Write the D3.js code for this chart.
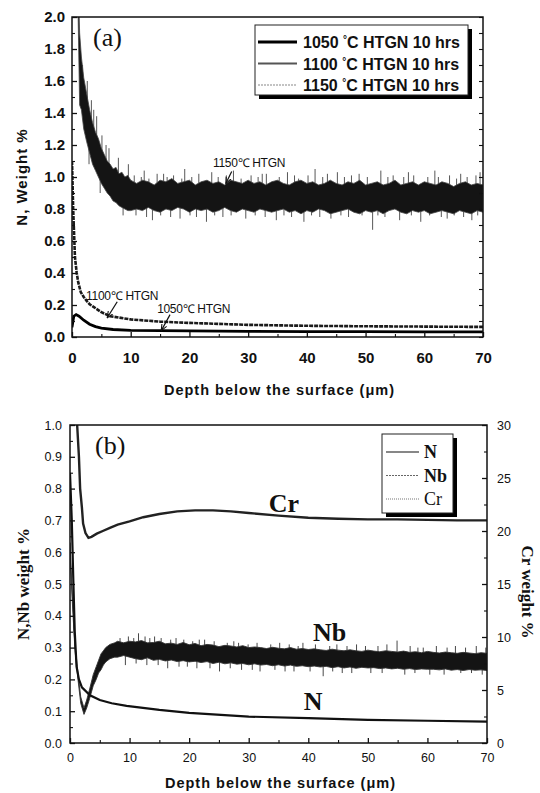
<!DOCTYPE html>
<html>
<head>
<meta charset="utf-8">
<script src="https://cdn.jsdelivr.net/npm/d3@7"></script>
<style>
body { margin: 0; background: #fff; }
svg { display: block; }
</style>
</head>
<body>
<svg id="chart" width="540" height="793"></svg>
<script>
// ---- panel (a) data : N weight % vs depth (um) ----
var depth1050 = [0, 0.3, 0.7, 1.2, 2, 3, 4, 5, 7, 10, 15, 20, 30, 40, 50, 60, 70];
var n1050 = [0.06, 0.13, 0.14, 0.13, 0.105, 0.08, 0.065, 0.055, 0.047, 0.042, 0.04, 0.038, 0.035, 0.034, 0.033, 0.032, 0.032];

var depth1100 = [0, 0.2, 0.5, 0.8, 1.07, 1.5, 2, 2.5, 3, 3.6, 5, 6.5, 10, 15, 20, 30, 40, 50, 60, 70];
var n1100 = [1.1, 0.8, 0.5, 0.4, 0.34, 0.28, 0.25, 0.225, 0.205, 0.19, 0.155, 0.13, 0.11, 0.096, 0.088, 0.076, 0.07, 0.067, 0.065, 0.063];

// 1150 is a noisy trace: upper / lower edge of the band
var depth1150 = [0.9, 1.0, 1.3, 1.6, 2, 2.5, 3, 3.5, 4, 4.5, 5, 5.5, 6, 6.5, 7, 7.5, 8, 8.5, 9, 9.5, 10,
    11, 12, 13, 14, 15, 16, 17, 18, 19, 20, 21, 22, 23, 24, 25, 26, 27, 28, 29, 30,
    31, 32, 33, 34, 35, 36, 37, 38, 39, 40, 41, 42, 43, 44, 45, 46, 47, 48, 49, 50,
    51, 52, 53, 54, 55, 56, 57, 58, 59, 60, 61, 62, 63, 64, 65, 66, 67, 68, 69, 70];
var hi1150 = [2.3, 2.3, 1.9, 1.75, 1.62, 1.52, 1.42, 1.34, 1.28, 1.24, 1.18, 1.14, 1.1, 1.08, 1.05, 1.06, 1.02, 1.03, 1.0, 1.01, 0.98,
    0.96, 0.98, 0.97, 0.95, 0.98, 0.97, 0.99, 0.96, 0.97, 0.98, 0.95, 0.97, 0.98, 0.96, 0.97, 0.95, 0.98, 0.97, 0.96, 0.98,
    0.96, 0.97, 0.95, 0.97, 0.98, 0.96, 0.95, 0.97, 0.98, 0.96, 0.97, 0.95, 0.96, 0.98, 0.96, 0.95, 0.97, 0.96, 0.98, 0.95,
    0.96, 0.97, 0.95, 0.96, 0.98, 0.95, 0.96, 0.97, 0.95, 0.97, 0.96, 0.95, 0.97, 0.96, 0.94, 0.96, 0.97, 0.95, 0.96, 0.95];
var lo1150 = [2.3, 2.1, 1.45, 1.42, 1.3, 1.22, 1.15, 1.08, 1.04, 1.0, 0.96, 0.93, 0.9, 0.88, 0.85, 0.84, 0.82, 0.81, 0.8, 0.79, 0.79,
    0.80, 0.79, 0.81, 0.79, 0.78, 0.80, 0.79, 0.81, 0.80, 0.78, 0.80, 0.79, 0.80, 0.78, 0.79, 0.81, 0.79, 0.78, 0.80, 0.79,
    0.78, 0.80, 0.79, 0.78, 0.79, 0.80, 0.78, 0.79, 0.77, 0.79, 0.78, 0.80, 0.79, 0.77, 0.78, 0.79, 0.80, 0.78, 0.77, 0.79,
    0.78, 0.79, 0.77, 0.79, 0.80, 0.78, 0.77, 0.79, 0.78, 0.79, 0.77, 0.78, 0.79, 0.78, 0.77, 0.79, 0.78, 0.77, 0.79, 0.78];
// [depth, from, to] single spikes sticking out of the band
var spikes1150 = [[1.8, 1.5, 1.7], [2.6, 1.35, 1.6], [3.3, 1.25, 1.48], [4.2, 1.15, 1.38], [5.1, 1.05, 1.26], [6.3, 1.0, 1.18],
    [7.9, 0.92, 1.12], [9.6, 0.9, 1.08], [2.9, 1.3, 1.08], [4.8, 1.1, 0.9], [8.7, 0.9, 0.76], [3.7, 1.2, 1.42], [5.8, 1.0, 1.2],
    [10.6, 0.9, 1.01], [11.8, 0.9, 1.0], [12.3, 0.9, 1.04], [13.1, 0.9, 0.99], [14.5, 0.9, 1.02], [15.6, 0.9, 1.02], [16.2, 0.9, 1.0],
    [17.3, 0.9, 1.01], [18.7, 0.9, 0.99], [19.2, 0.9, 1.05], [20.4, 0.9, 1.0], [21.6, 0.9, 1.02], [23.8, 0.9, 1.03], [24.9, 0.9, 1.0],
    [26.3, 0.9, 1.01], [27.5, 0.9, 1.04], [28.8, 0.9, 0.99], [30.5, 0.9, 1.01], [31.7, 0.9, 1.0], [32.4, 0.9, 1.02], [33.1, 0.9, 1.02],
    [35.3, 0.9, 1.0], [36.7, 0.9, 1.03], [37.9, 0.9, 1.01], [38.6, 0.9, 0.99], [40.2, 0.9, 1.01], [41.4, 0.9, 1.05], [42.7, 0.9, 1.0],
    [43.5, 0.9, 1.02], [45.2, 0.9, 1.03], [46.4, 0.9, 1.0], [47.6, 0.9, 1.01], [48.9, 0.9, 1.02], [50.3, 0.9, 1.0], [52.6, 0.9, 1.04],
    [53.8, 0.9, 1.0], [54.7, 0.9, 1.01], [56.5, 0.9, 1.0], [57.3, 0.9, 1.03], [58.2, 0.9, 1.01], [60.6, 0.9, 1.0], [61.8, 0.9, 1.04],
    [62.4, 0.9, 1.0], [64.3, 0.9, 1.01], [65.5, 0.9, 0.99], [66.2, 0.9, 1.02], [67.3, 0.9, 1.0], [68.8, 0.9, 1.01], [69.5, 0.9, 1.03],
    [10.9, 0.86, 0.76], [12.7, 0.86, 0.75], [13.7, 0.86, 0.73], [15.1, 0.86, 0.76], [16.8, 0.86, 0.75], [18.4, 0.86, 0.74],
    [20.1, 0.86, 0.76], [21.2, 0.86, 0.75], [22.9, 0.86, 0.72], [24.3, 0.86, 0.76], [25.7, 0.86, 0.75], [27.1, 0.86, 0.76],
    [29.6, 0.86, 0.74], [31.2, 0.86, 0.76], [32.9, 0.86, 0.75], [34.8, 0.86, 0.73], [36.1, 0.86, 0.76], [37.4, 0.86, 0.75],
    [39.5, 0.86, 0.72], [40.8, 0.86, 0.76], [42.2, 0.86, 0.75], [44.1, 0.86, 0.74], [45.8, 0.86, 0.76], [47.1, 0.86, 0.75],
    [49.4, 0.86, 0.76], [51.2, 0.86, 0.67], [52.1, 0.86, 0.76], [53.3, 0.86, 0.75], [55.8, 0.86, 0.73], [57.8, 0.86, 0.76],
    [59.4, 0.86, 0.72], [60.9, 0.86, 0.76], [62.9, 0.86, 0.75], [63.9, 0.86, 0.74], [65.1, 0.86, 0.76], [66.7, 0.86, 0.75],
    [68.1, 0.86, 0.73], [69.1, 0.86, 0.76]];

var legendA = ["1050", "1100", "1150"];

// ---- panel (b) data ----
var depthN = [0, 0.3, 0.56, 0.8, 1.1, 1.5, 2, 3.35, 5, 7, 9.5, 15, 20, 30, 40, 50, 60, 70];
var nB = [0.85, 0.7, 0.51, 0.35, 0.24, 0.2, 0.175, 0.15, 0.135, 0.125, 0.117, 0.104, 0.095, 0.083, 0.078, 0.073, 0.07, 0.067];

var depthNb = [0, 0.4, 0.84, 1.4, 1.8, 2.35, 2.8, 3.3, 3.9, 4.4, 4.8, 5.2, 5.6, 6, 6.7, 7.5, 8, 9, 10,
    11, 12, 13, 14, 15, 16, 17, 18, 19, 20, 21, 22, 23, 24, 25, 26, 27, 28, 29, 30,
    31, 32, 33, 34, 35, 36, 37, 38, 39, 40, 41, 42, 43, 44, 45, 46, 47, 48, 49, 50,
    51, 52, 53, 54, 55, 56, 57, 58, 59, 60, 61, 62, 63, 64, 65, 66, 67, 68, 69, 70];
var hiNb = [0.63, 0.46, 0.31, 0.21, 0.145, 0.11, 0.135, 0.17, 0.215, 0.24, 0.26, 0.28, 0.29, 0.3, 0.31, 0.315, 0.32, 0.315, 0.32,
    0.318, 0.322, 0.315, 0.316, 0.32, 0.312, 0.314, 0.31, 0.316, 0.309,
    0.313, 0.306, 0.31, 0.308, 0.303, 0.307, 0.305, 0.302, 0.306, 0.3,
    0.302, 0.3, 0.297, 0.301, 0.298, 0.296, 0.3, 0.295, 0.297, 0.294,
    0.296, 0.293, 0.291, 0.295, 0.292, 0.29, 0.293, 0.29, 0.288, 0.292,
    0.289, 0.287, 0.29, 0.288, 0.286, 0.289, 0.285, 0.287, 0.284, 0.288,
    0.285, 0.283, 0.286, 0.284, 0.282, 0.285, 0.283, 0.281, 0.284, 0.282];
var loNb = [0.6, 0.44, 0.29, 0.19, 0.125, 0.09, 0.11, 0.14, 0.18, 0.2, 0.22, 0.23, 0.245, 0.255, 0.265, 0.27, 0.27, 0.275, 0.27,
    0.265, 0.262, 0.268, 0.26, 0.263, 0.258, 0.261, 0.256, 0.259, 0.255,
    0.257, 0.253, 0.256, 0.25, 0.254, 0.249, 0.252, 0.248, 0.25, 0.246,
    0.249, 0.245, 0.247, 0.243, 0.246, 0.242, 0.245, 0.241, 0.243, 0.24,
    0.242, 0.239, 0.241, 0.237, 0.24, 0.236, 0.239, 0.235, 0.238, 0.236,
    0.237, 0.234, 0.236, 0.233, 0.235, 0.232, 0.234, 0.231, 0.233, 0.232,
    0.232, 0.23, 0.233, 0.229, 0.231, 0.228, 0.231, 0.229, 0.23, 0.228];
var spikesNb = [[8.4, 0.29, 0.33], [9.8, 0.29, 0.335], [10.7, 0.29, 0.33], [11.5, 0.29, 0.345], [12.6, 0.29, 0.335], [13.4, 0.29, 0.33],
    [14.2, 0.29, 0.335], [15.3, 0.285, 0.33], [16.9, 0.285, 0.325], [17.8, 0.285, 0.33], [19.1, 0.285, 0.325], [20.6, 0.28, 0.32],
    [21.7, 0.28, 0.325], [22.6, 0.28, 0.325], [24.2, 0.28, 0.32], [26.4, 0.275, 0.315], [27.5, 0.275, 0.32], [28.3, 0.275, 0.315],
    [29.9, 0.275, 0.31], [31.4, 0.27, 0.315], [33.7, 0.27, 0.31], [35.2, 0.27, 0.315], [36.8, 0.27, 0.31], [38.3, 0.265, 0.305],
    [39.1, 0.265, 0.315], [41.2, 0.265, 0.31], [43.6, 0.265, 0.305], [44.8, 0.265, 0.31], [46.5, 0.26, 0.305], [48.1, 0.26, 0.31],
    [49.6, 0.26, 0.305], [51.7, 0.26, 0.305], [53.2, 0.26, 0.31], [54.9, 0.26, 0.322], [57.1, 0.255, 0.305], [58.4, 0.255, 0.3],
    [59.3, 0.255, 0.3], [61.5, 0.255, 0.305], [63.3, 0.255, 0.3], [64.7, 0.255, 0.305], [66.4, 0.255, 0.3], [68.2, 0.255, 0.305],
    [69.8, 0.255, 0.3],
    [9.3, 0.29, 0.245], [11.1, 0.29, 0.25], [12.9, 0.29, 0.245], [14.8, 0.285, 0.245], [16.4, 0.285, 0.235], [18.3, 0.285, 0.24],
    [19.7, 0.28, 0.24], [21.3, 0.28, 0.235], [23.5, 0.28, 0.235], [25.1, 0.28, 0.225], [26.9, 0.275, 0.235], [28.8, 0.275, 0.23],
    [30.6, 0.27, 0.23], [31.9, 0.27, 0.225], [34.4, 0.27, 0.23], [36.1, 0.27, 0.225], [37.6, 0.265, 0.225], [40.3, 0.265, 0.225],
    [42.5, 0.265, 0.21], [44.1, 0.265, 0.225], [45.7, 0.26, 0.22], [47.3, 0.26, 0.22], [50.5, 0.26, 0.22], [52.4, 0.26, 0.22],
    [56.2, 0.26, 0.215], [57.9, 0.255, 0.22], [60.4, 0.255, 0.215], [62.8, 0.255, 0.215], [65.6, 0.255, 0.22], [67.4, 0.255, 0.22],
    [69.2, 0.255, 0.215]];

var depthCr = [0, 1.0, 1.2, 1.5, 1.7, 2.0, 2.2, 2.6, 3.1, 3.6, 4.5, 5.5, 6.7, 8, 10, 12.3, 15, 18, 21, 24, 27, 30, 35, 40, 45, 50, 55, 60, 65, 70];
var crB = [36, 31, 30, 27, 24, 22.2, 20.7, 19.8, 19.35, 19.45, 19.75, 20.0, 20.3, 20.6, 20.9, 21.3, 21.6, 21.85, 21.95, 21.95, 21.85, 21.7, 21.45, 21.25, 21.15, 21.1, 21.1, 21.05, 21.0, 21.0];

var legendB = ["N", "Nb", "Cr"];

var xMajor = [0, 10, 20, 30, 40, 50, 60, 70];
var xMinor = [5, 15, 25, 35, 45, 55, 65];
var yMajorA = [0, 0.2, 0.4, 0.6, 0.8, 1.0, 1.2, 1.4, 1.6, 1.8, 2.0];
var yMinorA = [0.1, 0.3, 0.5, 0.7, 0.9, 1.1, 1.3, 1.5, 1.7, 1.9];
var yMajorB = [0, 0.1, 0.2, 0.3, 0.4, 0.5, 0.6, 0.7, 0.8, 0.9, 1.0];
var yMinorB = [0.05, 0.15, 0.25, 0.35, 0.45, 0.55, 0.65, 0.75, 0.85, 0.95];
var crMajor = [0, 5, 10, 15, 20, 25, 30];
var crMinor = [2.5, 7.5, 12.5, 17.5, 22.5, 27.5];

var sans = "'Liberation Sans', Arial, sans-serif";
var serif = "'Liberation Serif', 'Times New Roman', serif";

var svg = d3.select("#chart");
var defs = svg.append("defs");

function rows(depth, a, b) {
    return depth.map(function (d, i) { return {d: d, a: a[i], b: b ? b[i] : null}; });
}

function styleAxis(g, fontSize, weight, family) {
    g.select(".domain").remove();
    g.selectAll("line").attr("stroke", "#111").attr("stroke-width", 1.3);
    g.selectAll("text").attr("fill", "#111").style("font-family", family)
        .style("font-size", fontSize + "px").style("font-weight", weight);
}

function minorAxis(g, axis) {
    g.call(axis.tickFormat(""));
    g.select(".domain").remove();
    g.selectAll("line").attr("stroke", "#111").attr("stroke-width", 1.1);
}

// ================= panel (a) =================
var xA = d3.scaleLinear().domain([0, 70]).range([72, 483]);
var yA = d3.scaleLinear().domain([0, 2]).range([337, 17]);

defs.append("clipPath").attr("id", "clipA").append("rect")
    .attr("x", xA(0)).attr("y", yA(2)).attr("width", xA(70) - xA(0)).attr("height", yA(0) - yA(2));

var ga = svg.append("g");
var plotA = ga.append("g").attr("clip-path", "url(#clipA)");

var lineA = d3.line().x(function (d) { return xA(d.d); }).y(function (d) { return yA(d.a); });

plotA.append("path").datum(rows(depth1100, n1100))
    .attr("d", lineA).attr("fill", "none").attr("stroke", "#1a1a1a")
    .attr("stroke-width", 2.6).attr("stroke-dasharray", "4 1");
plotA.append("path").datum(rows(depth1050, n1050))
    .attr("d", lineA).attr("fill", "none").attr("stroke", "#000").attr("stroke-width", 2.8);

plotA.selectAll(".spk").data(spikes1150).enter().append("line")
    .attr("x1", function (d) { return xA(d[0]); }).attr("x2", function (d) { return xA(d[0]); })
    .attr("y1", function (d) { return yA(d[1]); }).attr("y2", function (d) { return yA(d[2]); })
    .attr("stroke", "#444").attr("stroke-width", 0.9);
var areaA = d3.area().x(function (d) { return xA(d.d); })
    .y0(function (d) { return yA(d.b); }).y1(function (d) { return yA(d.a); });
plotA.append("path").datum(rows(depth1150, hi1150, lo1150))
    .attr("d", areaA).attr("fill", "#141414").attr("stroke", "#444").attr("stroke-width", 0.8);

// axes (a)
ga.append("g").attr("transform", "translate(0," + yA(0) + ")")
    .call(d3.axisBottom(xA).tickValues(xMajor).tickSize(-5).tickPadding(15).tickFormat(d3.format("d")))
    .call(styleAxis, 15, "bold", sans);
ga.append("g").attr("transform", "translate(0," + yA(0) + ")")
    .call(minorAxis, d3.axisBottom(xA).tickValues(xMinor).tickSize(-3));
ga.append("g").attr("transform", "translate(" + xA(0) + ",0)")
    .call(d3.axisLeft(yA).tickValues(yMajorA).tickSize(-5).tickPadding(7).tickFormat(d3.format(".1f")))
    .call(styleAxis, 15, "bold", sans);
ga.append("g").attr("transform", "translate(" + xA(0) + ",0)")
    .call(minorAxis, d3.axisLeft(yA).tickValues(yMinorA).tickSize(-3));
ga.append("g").attr("transform", "translate(" + xA(70) + ",0)")
    .call(minorAxis, d3.axisRight(yA).tickValues(yMajorA.concat(yMinorA)).tickSize(-4));

ga.append("rect").attr("x", xA(0)).attr("y", yA(2))
    .attr("width", xA(70) - xA(0)).attr("height", yA(0) - yA(2))
    .attr("fill", "none").attr("stroke", "#111").attr("stroke-width", 1.5);

ga.append("text").attr("x", (xA(0) + xA(70)) / 2 + 2).attr("y", 395)
    .attr("text-anchor", "middle").style("font-family", sans).style("font-size", "14.5px")
    .style("font-weight", "bold").style("letter-spacing", "1px").attr("fill", "#111")
    .text("Depth below the surface (\u03bcm)");
ga.append("text").attr("transform", "translate(27," + (yA(0) + yA(2)) / 2 + ") rotate(-90)")
    .attr("text-anchor", "middle").style("font-family", sans).style("font-size", "15px")
    .style("font-weight", "bold").style("letter-spacing", "1px").attr("fill", "#111")
    .text("N, Weight %");
ga.append("text").attr("x", 93).attr("y", 46).style("font-family", serif).style("font-size", "26px")
    .attr("fill", "#111").text("(a)");

// annotations (a)
defs.append("marker").attr("id", "arrow").attr("viewBox", "0 0 8 8").attr("refX", 7).attr("refY", 4)
    .attr("markerWidth", 6).attr("markerHeight", 6).attr("orient", "auto")
    .append("path").attr("d", "M0,1 L7,4 L0,7").attr("fill", "none").attr("stroke", "#111").attr("stroke-width", 1.2);

var notesA = [
    {t: "1150\u2103 HTGN", d: 24.0, v: 1.06, a: [27.2, 1.035, 26.2, 0.96]},
    {t: "1100\u2103 HTGN", d: 2.4, v: 0.23, a: [7.7, 0.22, 6.0, 0.12]},
    {t: "1050\u2103 HTGN", d: 14.5, v: 0.148, a: [16.7, 0.14, 15.2, 0.04]}
];
notesA.forEach(function (n) {
    ga.append("text").attr("x", xA(n.d)).attr("y", yA(n.v))
        .style("font-family", sans).style("font-size", "12px").style("letter-spacing", "-0.3px")
        .attr("fill", "#111").text(n.t);
    ga.append("line").attr("x1", xA(n.a[0])).attr("y1", yA(n.a[1]))
        .attr("x2", xA(n.a[2])).attr("y2", yA(n.a[3]))
        .attr("stroke", "#111").attr("stroke-width", 1.2).attr("marker-end", "url(#arrow)");
});

// legend (a)
var legA = ga.append("g").attr("transform", "translate(255,25)");
legA.append("rect").attr("x", 4).attr("y", 4).attr("width", 213).attr("height", 70).attr("fill", "#000");
legA.append("rect").attr("width", 213).attr("height", 70).attr("fill", "#fff").attr("stroke", "#222").attr("stroke-width", 1);
var legStyleA = [{w: 3, c: "#000", dash: null}, {w: 2, c: "#555", dash: null}, {w: 1.2, c: "#888", dash: "2 1"}];
legendA.forEach(function (t, i) {
    var yy = 17 + i * 21.5;
    legA.append("line").attr("x1", 3).attr("x2", 42).attr("y1", yy).attr("y2", yy)
        .attr("stroke", legStyleA[i].c).attr("stroke-width", legStyleA[i].w)
        .attr("stroke-dasharray", legStyleA[i].dash);
    var tx = legA.append("text").attr("x", 48).attr("y", yy + 6)
        .style("font-family", sans).style("font-size", "16px").style("font-weight", "bold").attr("fill", "#111");
    tx.append("tspan").text(t + " ");
    tx.append("tspan").attr("dy", -5).style("font-size", "10px").text("\u00b0");
    tx.append("tspan").attr("dy", 5).text("C HTGN 10 hrs");
});

// ================= panel (b) =================
var xB = d3.scaleLinear().domain([0, 70]).range([70, 487]);
var yB = d3.scaleLinear().domain([0, 1]).range([743, 425]);
var yCr = d3.scaleLinear().domain([0, 30]).range([743, 425]);

defs.append("clipPath").attr("id", "clipB").append("rect")
    .attr("x", xB(0)).attr("y", yB(1)).attr("width", xB(70) - xB(0)).attr("height", yB(0) - yB(1));

var gb = svg.append("g");
var plotB = gb.append("g").attr("clip-path", "url(#clipB)");

plotB.append("path").datum(rows(depthCr, crB))
    .attr("d", d3.line().x(function (d) { return xB(d.d); }).y(function (d) { return yCr(d.a); }))
    .attr("fill", "none").attr("stroke", "#222").attr("stroke-width", 2.4);

plotB.selectAll(".spk").data(spikesNb).enter().append("line")
    .attr("x1", function (d) { return xB(d[0]); }).attr("x2", function (d) { return xB(d[0]); })
    .attr("y1", function (d) { return yB(d[1]); }).attr("y2", function (d) { return yB(d[2]); })
    .attr("stroke", "#333").attr("stroke-width", 0.9);
plotB.append("path").datum(rows(depthNb, hiNb, loNb))
    .attr("d", d3.area().x(function (d) { return xB(d.d); })
        .y0(function (d) { return yB(d.b); }).y1(function (d) { return yB(d.a); }))
    .attr("fill", "#141414").attr("stroke", "#333").attr("stroke-width", 0.9);

plotB.append("path").datum(rows(depthN, nB))
    .attr("d", d3.line().x(function (d) { return xB(d.d); }).y(function (d) { return yB(d.a); }))
    .attr("fill", "none").attr("stroke", "#111").attr("stroke-width", 2.2);

// axes (b)
gb.append("g").attr("transform", "translate(0," + yB(0) + ")")
    .call(d3.axisBottom(xB).tickValues(xMajor).tickSize(-5).tickPadding(10).tickFormat(d3.format("d")))
    .call(styleAxis, 12.5, "normal", sans);
gb.append("g").attr("transform", "translate(0," + yB(0) + ")")
    .call(minorAxis, d3.axisBottom(xB).tickValues(xMinor).tickSize(-3));
gb.append("g").attr("transform", "translate(" + xB(0) + ",0)")
    .call(d3.axisLeft(yB).tickValues(yMajorB).tickSize(-5).tickPadding(8).tickFormat(d3.format(".1f")))
    .call(styleAxis, 12.5, "normal", sans);
gb.append("g").attr("transform", "translate(" + xB(0) + ",0)")
    .call(minorAxis, d3.axisLeft(yB).tickValues(yMinorB).tickSize(-3));
gb.append("g").attr("transform", "translate(" + xB(70) + ",0)")
    .call(d3.axisRight(yCr).tickValues(crMajor).tickSize(-5).tickPadding(10).tickFormat(d3.format("d")))
    .call(styleAxis, 12.5, "normal", sans);
gb.append("g").attr("transform", "translate(" + xB(70) + ",0)")
    .call(minorAxis, d3.axisRight(yCr).tickValues(crMinor).tickSize(-3));

gb.append("rect").attr("x", xB(0)).attr("y", yB(1))
    .attr("width", xB(70) - xB(0)).attr("height", yB(0) - yB(1))
    .attr("fill", "none").attr("stroke", "#111").attr("stroke-width", 1.5);

gb.append("text").attr("x", (xB(0) + xB(70)) / 2 + 2).attr("y", 788)
    .attr("text-anchor", "middle").style("font-family", sans).style("font-size", "14.5px")
    .style("font-weight", "bold").style("letter-spacing", "1px").attr("fill", "#111")
    .text("Depth below the surface (\u03bcm)");
gb.append("text").attr("transform", "translate(29," + (yB(0) + yB(1)) / 2 + ") rotate(-90)")
    .attr("text-anchor", "middle").style("font-family", serif).style("font-size", "17px")
    .style("font-weight", "bold").attr("fill", "#111").text("N,Nb weight %");
gb.append("text").attr("transform", "translate(522," + ((yB(0) + yB(1)) / 2 + 8) + ") rotate(90)")
    .attr("text-anchor", "middle").style("font-family", serif).style("font-size", "17px")
    .style("font-weight", "bold").attr("fill", "#111").text("Cr weight %");
gb.append("text").attr("x", 95).attr("y", 454).style("font-family", serif).style("font-size", "26px")
    .attr("fill", "#111").text("(b)");

// curve labels (b)
var notesB = [
    {t: "Cr", d: 35.9, v: 0.726},
    {t: "Nb", d: 43.6, v: 0.32},
    {t: "N", d: 40.8, v: 0.104}
];
notesB.forEach(function (n) {
    gb.append("text").attr("x", xB(n.d)).attr("y", yB(n.v)).attr("text-anchor", "middle")
        .style("font-family", serif).style("font-size", "26px").style("font-weight", "bold")
        .attr("fill", "#111").text(n.t);
});

// legend (b)
var legB = gb.append("g").attr("transform", "translate(382,434)");
legB.append("rect").attr("x", 4).attr("y", 4).attr("width", 71).attr("height", 79).attr("fill", "#000");
legB.append("rect").attr("width", 71).attr("height", 79).attr("fill", "#fff").attr("stroke", "#222").attr("stroke-width", 1);
var legStyleB = [{c: "#111", dash: null, bold: "bold"}, {c: "#666", dash: "2 1", bold: "bold"}, {c: "#777", dash: "1 1", bold: "normal"}];
legendB.forEach(function (t, i) {
    var yy = 18 + i * 23.5;
    legB.append("line").attr("x1", 4).attr("x2", 37).attr("y1", yy).attr("y2", yy)
        .attr("stroke", legStyleB[i].c).attr("stroke-width", 1.2).attr("stroke-dasharray", legStyleB[i].dash);
    legB.append("text").attr("x", 42).attr("y", yy + 6)
        .style("font-family", serif).style("font-size", "18px").style("font-weight", legStyleB[i].bold)
        .attr("fill", "#111").text(t);
});
</script>
</body>
</html>
